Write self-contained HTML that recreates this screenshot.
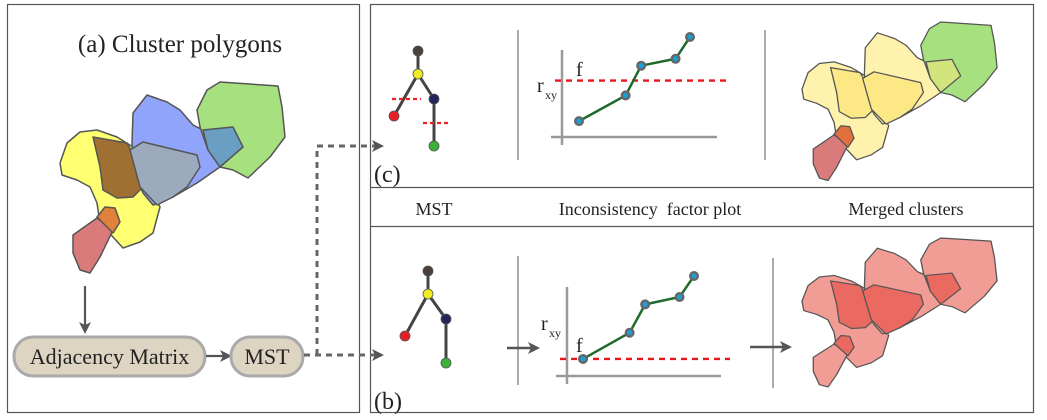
<!DOCTYPE html>
<html><head><meta charset="utf-8"><style>
html,body{margin:0;padding:0;background:#fff;}
svg{display:block;}
svg text{font-family:"Liberation Serif",serif;}
</style></head><body>
<svg id="fig" width="1047" height="420" viewBox="0 0 1047 420" xmlns="http://www.w3.org/2000/svg" font-family="Liberation Serif, serif">
<defs>
<marker id="ah" markerWidth="12" markerHeight="12" refX="9" refY="6" orient="auto" markerUnits="userSpaceOnUse"><path d="M0,0 L12,6 L0,12 L3,6 Z" fill="#555"/></marker>
</defs>
<rect x="7.5" y="4.5" width="352" height="408" fill="none" stroke="#555" stroke-width="1.2"/>
<rect x="370.5" y="4.5" width="663" height="408" fill="none" stroke="#555" stroke-width="1.2"/>
<line x1="370" y1="187.5" x2="1034" y2="187.5" stroke="#555" stroke-width="1.2"/>
<line x1="370" y1="226.5" x2="1034" y2="226.5" stroke="#555" stroke-width="1.2"/>
<text x="180" y="52" font-size="25" text-anchor="middle" fill="#222">(a) Cluster polygons</text>
<g id="clusters-a"></g>
<g id="clusters-c" transform="translate(802,22) scale(0.867,0.83) translate(-60,-82)"></g>
<g id="clusters-b" transform="translate(802,238) scale(0.867,0.78) translate(-60,-82)"></g>
<line x1="85" y1="286" x2="85" y2="331" stroke="#555" stroke-width="2.2" marker-end="url(#ah)"/>
<rect x="14" y="337" width="191" height="39" rx="19" fill="#ddd4c2" stroke="#aaa" stroke-width="3"/>
<text x="109.5" y="364" font-size="22" text-anchor="middle" fill="#222">Adjacency Matrix</text>
<line x1="206" y1="356" x2="229" y2="356" stroke="#555" stroke-width="2.2" marker-end="url(#ah)"/>
<rect x="231" y="337" width="72" height="39" rx="19" fill="#ddd4c2" stroke="#aaa" stroke-width="3"/>
<text x="267" y="364" font-size="22" text-anchor="middle" fill="#222">MST</text>
<path d="M304,355 H381" fill="none" stroke="#666" stroke-width="3" stroke-dasharray="6,5" marker-end="url(#ah)"/>
<path d="M317,355 V146 H381" fill="none" stroke="#666" stroke-width="3" stroke-dasharray="6,5" marker-end="url(#ah)"/>
<text x="374" y="182" font-size="24" fill="#222">(c)</text>
<text x="374" y="409" font-size="24" fill="#222">(b)</text>
<text x="434" y="215" font-size="18" text-anchor="middle" fill="#222">MST</text>
<text x="650" y="215" font-size="18" text-anchor="middle" fill="#222" xml:space="preserve">Inconsistency  factor plot</text>
<text x="906" y="215" font-size="18" text-anchor="middle" fill="#222">Merged clusters</text>
<line x1="518" y1="30" x2="518" y2="160" stroke="#555" stroke-width="1"/>
<line x1="765" y1="30" x2="765" y2="160" stroke="#555" stroke-width="1"/>
<line x1="518" y1="256" x2="518" y2="385" stroke="#555" stroke-width="1"/>
<line x1="773" y1="258" x2="773" y2="388" stroke="#555" stroke-width="1"/>
<line x1="507" y1="348" x2="537" y2="348" stroke="#555" stroke-width="2.5" marker-end="url(#ah)"/>
<line x1="750" y1="347" x2="789" y2="347" stroke="#555" stroke-width="2.5" marker-end="url(#ah)"/>
<g id="mst-c"></g>
<g id="mst-b"></g>
<line x1="392" y1="99" x2="421" y2="99" stroke="#e22" stroke-width="2.2" stroke-dasharray="4,3"/>
<line x1="423" y1="123" x2="448" y2="123" stroke="#e22" stroke-width="2.2" stroke-dasharray="4,3"/>
<g id="plot-c"></g>
<g id="plot-b"></g>
</svg>
<script>
// Edge order values (relative position along x, 0..1)
const edgeOrder = [0, 0.42, 0.56, 0.87, 1.0];
// Inconsistency factor values (relative units, 0..1) for the five MST edges
const factorsC = [0.15, 0.41, 0.71, 0.78, 1.0];
const factorsB = [0.21, 0.46, 0.73, 0.80, 1.0];
const thresholdC = 0.56;
const thresholdB = 0.21;

const NS = 'http://www.w3.org/2000/svg';
function mk(tag, attrs, parent) {
  const e = document.createElementNS(NS, tag);
  for (const k in attrs) e.setAttribute(k, attrs[k]);
  parent.appendChild(e);
  return e;
}

const polys = {
  yellow: "60,163 67,143 80,132 97,130 117,137 133,147 143,163 148,183 160,207 153,233 140,242 123,248 113,237 100,223 97,203 90,187 77,180 62,175",
  blue: "133,113 147,95 167,102 180,110 193,125 203,130 230,127 243,147 220,167 197,183 173,197 153,205 143,193 133,170 132,143",
  green: "197,110 207,90 220,82 278,86 282,107 285,137 270,157 248,178 233,170 220,167 208,150 200,127",
  brown: "93,137 127,143 140,167 147,183 133,197 117,198 103,190 100,167",
  grayblue: "130,150 143,142 197,155 200,167 187,187 173,197 157,205 140,187",
  teal: "203,130 233,127 243,147 220,167 208,150",
  red: "73,235 97,218 113,230 100,257 90,273 80,270 73,253",
  orange: "97,217 105,207 115,208 120,222 113,233"
};
const order = ['yellow','blue','green','brown','grayblue','teal','red','orange'];
const fillsA = {yellow:'#ffff72',blue:'#8fa4fa',green:'#a6e07f',brown:'#a06f32',grayblue:'#9babbd',teal:'#6a9ec2',red:'#da7b7b',orange:'#e0823a'};
const fillsC = {yellow:'#fef2ac',blue:'#fef2ac',green:'#a6e07f',brown:'#fde886',grayblue:'#fde886',teal:'#d4e47c',red:'#da7b7b',orange:'#e0703e'};
const fillsB = {yellow:'#f29c96',blue:'#f29c96',green:'#f29c96',brown:'#ea6a62',grayblue:'#ea6a62',teal:'#ea6a62',red:'#f29c96',orange:'#ea6a62'};
function drawClusters(id, fills) {
  const g = document.getElementById(id);
  order.forEach(k => {
    const p = mk('polygon', {points: polys[k], fill: fills[k], stroke: '#555', 'stroke-width': 1.5, 'stroke-linejoin': 'round'}, g);
    
    
  });
}
drawClusters('clusters-a', fillsA);
drawClusters('clusters-c', fillsC);
drawClusters('clusters-b', fillsB);

function drawTree(id, nodes) {
  const g = document.getElementById(id);
  const edges = [[0,1],[1,2],[1,3],[2,4]];
  edges.forEach(e => {
    const l = mk('line', {x1: nodes[e[0]][0], y1: nodes[e[0]][1], x2: nodes[e[1]][0], y2: nodes[e[1]][1], stroke: '#444', 'stroke-width': 3}, g);
    
    
  });
  const cols = ['#4a403c','#f0ea20','#22265a','#e81e24','#3bb13a'];
  nodes.forEach((n, i) => {
    const c = mk('circle', {cx: n[0], cy: n[1], r: 5, fill: cols[i], stroke: '#555', 'stroke-width': 0.8}, g);
    
    
  });
}
drawTree('mst-c', [[418,51],[418,74],[434,99],[394,116],[434,146]]);
drawTree('mst-b', [[428,271],[428,294],[446,319],[405,336],[446,363]]);

function drawPlot(id, ax, vals, thr) {
  const g = document.getElementById(id);
  const xS = v => ax.x0 + v * (ax.x1 - ax.x0);
  const yS = v => ax.yBot - v * (ax.yBot - ax.yTop);
  let l = mk('line', {x1: ax.axX, y1: ax.axTop, x2: ax.axX, y2: ax.axY + 8, stroke: '#999', 'stroke-width': 2.5}, g);
   
  l = mk('line', {x1: ax.axX - 11, y1: ax.axY, x2: ax.axRight, y2: ax.axY, stroke: '#999', 'stroke-width': 2.5}, g);
   
  const ty = yS(thr);
  l = mk('line', {x1: ax.axX - 7, y1: ty, x2: 730, y2: ty, stroke: '#e8151b', 'stroke-width': 2.4, 'stroke-dasharray': '6,5'}, g);
   
  const pts = vals.map((v, i) => xS(edgeOrder[i]) + ',' + yS(v)).join(' ');
  l = mk('polyline', {points: pts, fill: 'none', stroke: '#1f6a2c', 'stroke-width': 2.5}, g);
   
  vals.forEach((v, i) => {
    const c = mk('circle', {cx: xS(edgeOrder[i]), cy: yS(v), r: 3.8, fill: '#1aa0d8', stroke: '#666', 'stroke-width': 2.4}, g);
    
    
  });
  let t = mk('text', {x: ax.rx, y: ax.ry, 'font-size': 20, fill: '#222'}, g);
  t.textContent = 'r';
   
  t = mk('text', {x: ax.rx + 8, y: ax.ry + 7, 'font-size': 12, fill: '#222'}, g);
  t.textContent = 'xy';
   
  t = mk('text', {x: ax.fx, y: ax.fy, 'font-size': 20, fill: '#222'}, g);
  t.textContent = 'f';
   
}
drawPlot('plot-c', {x0:579, x1:690, yTop:37, yBot:136, axX:562, axTop:50, axY:137, axRight:717, rx:537, ry:92, fx:576, fy:76}, factorsC, thresholdC);
drawPlot('plot-b', {x0:583, x1:694, yTop:276, yBot:381, axX:567, axTop:287, axY:376, axRight:721, rx:541, ry:330, fx:576, fy:352}, factorsB, thresholdB);
</script>
</body></html>
